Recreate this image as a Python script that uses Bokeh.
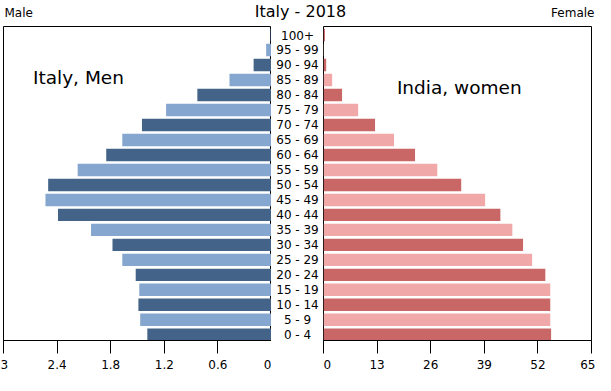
from bokeh.plotting import figure
from bokeh.layouts import column, row
from bokeh.models import Range1d, FixedTicker, Label, ColumnDataSource
from bokeh.embed import file_html
from bokeh.resources import INLINE
from bokeh.core.properties import value

FONT = "DejaVu Sans"

# ---- data (bottom to top) ----
ages = ["0 - 4", "5 - 9", "10 - 14", "15 - 19", "20 - 24", "25 - 29", "30 - 34",
        "35 - 39", "40 - 44", "45 - 49", "50 - 54", "55 - 59", "60 - 64", "65 - 69",
        "70 - 74", "75 - 79", "80 - 84", "85 - 89", "90 - 94", "95 - 99", "100+"]
italy_men = [1.39, 1.47, 1.49, 1.48, 1.52, 1.67, 1.78, 2.02, 2.39, 2.53, 2.50,
             2.17, 1.85, 1.67, 1.45, 1.18, 0.83, 0.47, 0.20, 0.06, 0.012]
india_women = [55.2, 55.0, 55.0, 55.0, 53.8, 50.6, 48.4, 45.8, 42.9, 39.2, 33.4,
               27.6, 22.2, 17.1, 12.5, 8.4, 4.5, 2.1, 0.65, 0.1, 0.35]
left_ticks = [3, 2.4, 1.8, 1.2, 0.6, 0]
left_tick_labels = ["3", "2.4", "1.8", "1.2", "0.6", "0"]
right_ticks = [0, 13, 26, 39, 52, 65]
right_tick_labels = ["0", "13", "26", "39", "52", "65"]

idx = list(range(len(ages)))
male_colors = ["#436388" if i % 2 == 0 else "#85a6ce" for i in idx]
female_colors = ["#c96666" if i % 2 == 0 else "#f0a8a8" for i in idx]

src = ColumnDataSource(dict(y=idx, age=ages, men=italy_men, women=india_women,
                            mc=male_colors, fc=female_colors))

Y0, Y1 = -0.38, 20.57
TOP, FRAME_H, BOTTOM = 1, 314, 35
FIG_H = TOP + FRAME_H + BOTTOM
HEAD_H = 25
BAR_H = 0.83


def base_fig(width, x_range, left, right, axis=True):
    p = figure(width=width, height=FIG_H, x_range=x_range, y_range=Range1d(Y0, Y1),
               output_backend="svg", toolbar_location=None,
               x_axis_location="below" if axis else None, y_axis_location=None,
               min_border_left=left, min_border_right=right,
               min_border_top=TOP, min_border_bottom=BOTTOM)
    p.grid.visible = False
    p.background_fill_color = "white"
    p.border_fill_color = "white"
    p.outline_line_color = "black" if axis else None
    p.outline_line_width = 1
    return p


def style_axis(p, ticks, labels):
    ax = p.xaxis[0]
    ax.ticker = FixedTicker(ticks=ticks)
    ax.major_label_overrides = {t: l for t, l in zip(ticks, labels)}
    ax.axis_line_color = "black"
    ax.major_tick_line_color = "black"
    ax.major_tick_out = 13
    ax.major_tick_in = 0
    ax.minor_tick_line_color = None
    ax.major_label_standoff = 6
    ax.major_label_text_font = FONT
    ax.major_label_text_font_size = "12px"
    ax.major_label_text_color = "black"


# ---- left panel: Italy men ----
left = base_fig(271, Range1d(3, 0), 3, 0)
left.hbar(y="y", left=0, right="men", height=BAR_H, fill_color="mc",
          line_color=None, source=src)
style_axis(left, left_ticks, left_tick_labels)
left.add_layout(Label(x=2.67, y=17.2, text="Italy, Men", text_font=FONT,
                      text_font_size="18.5px", text_color="black",
                      text_align="left", text_baseline="middle"))

# ---- middle: age labels ----
mid = base_fig(52, Range1d(0, 1), 0, 0, axis=False)
mid.text(x=0.5, y="y", text="age", source=src, text_font=value(FONT),
         text_font_size="12px", text_color="black", text_align="center",
         text_baseline="middle")

# ---- right panel: India women ----
right = base_fig(272, Range1d(0, 65), 0, 4)
right.hbar(y="y", left=0, right="women", height=BAR_H, fill_color="fc",
           line_color=None, source=src)
style_axis(right, right_ticks, right_tick_labels)
right.add_layout(Label(x=17.8, y=16.5, text="India, women", text_font=FONT,
                       text_font_size="18.5px", text_color="black",
                       text_align="left", text_baseline="middle"))

# ---- header ----
head = figure(width=595, height=HEAD_H, x_range=Range1d(0, 595), y_range=Range1d(HEAD_H, 0),
              output_backend="svg", toolbar_location=None,
              x_axis_location=None, y_axis_location=None,
              min_border_left=0, min_border_right=0, min_border_top=0, min_border_bottom=0)
head.grid.visible = False
head.outline_line_color = None
head.add_layout(Label(x=300, y=10.5, text="Italy - 2018", text_font=FONT,
                      text_font_size="16px", text_color="black",
                      text_align="center", text_baseline="middle"))
head.add_layout(Label(x=4, y=12.5, text="Male", text_font=FONT,
                      text_font_size="12px", text_color="black",
                      text_align="left", text_baseline="middle"))
head.add_layout(Label(x=594, y=12.5, text="Female", text_font=FONT,
                      text_font_size="12px", text_color="black",
                      text_align="right", text_baseline="middle"))

layout = column(head, row(left, mid, right, spacing=0), spacing=0)

open("out.html", "w").write(file_html(layout, INLINE))
